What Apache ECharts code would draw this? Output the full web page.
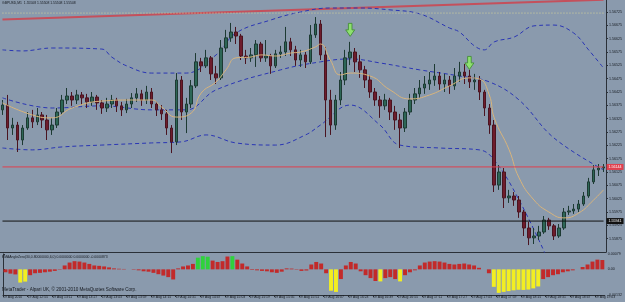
<!DOCTYPE html>
<html>
<head>
<meta charset="utf-8">
<script src="https://cdn.jsdelivr.net/npm/echarts@6/dist/echarts.min.js"></script>
<style>
  html, body { margin: 0; padding: 0; background: #8a9aad; }
  #chart { width: 625px; height: 302px; }
</style>
</head>
<body>
<div id="chart"></div>
<script>
// GBPUSD M1, one candle here ~ 3 minutes
const firstOpen = 1.56358;
const closes = [
  1.56376, 1.56290, 1.56301, 1.56245, 1.56290, 1.56328, 1.56313, 1.56339, 1.56320, 1.56283,
  1.56301, 1.56350, 1.56395, 1.56410, 1.56395, 1.56414, 1.56403, 1.56388, 1.56406, 1.56384,
  1.56365, 1.56380, 1.56395, 1.56373, 1.56358, 1.56380, 1.56403, 1.56418, 1.56395, 1.56425,
  1.56380, 1.56358, 1.56343, 1.56290, 1.56238, 1.56470, 1.56350, 1.56380, 1.56448, 1.56538,
  1.56523, 1.56553, 1.56493, 1.56478, 1.56590, 1.56628, 1.56650, 1.56635, 1.56560, 1.56553,
  1.56564, 1.56605, 1.56553, 1.56560, 1.56523, 1.56568, 1.56575, 1.56613, 1.56583, 1.56545,
  1.56564, 1.56538, 1.56639, 1.56680, 1.56564, 1.56395, 1.56301, 1.56395, 1.56470, 1.56553,
  1.56575, 1.56538, 1.56508, 1.56470, 1.56425, 1.56395, 1.56373, 1.56395, 1.56350, 1.56320,
  1.56290, 1.56350, 1.56395, 1.56418, 1.56440, 1.56455, 1.56470, 1.56485, 1.56455, 1.56470,
  1.56448, 1.56485, 1.56500, 1.56485, 1.56463, 1.56470, 1.56425, 1.56365, 1.56301, 1.56076,
  1.56125, 1.56028, 1.56035, 1.56020, 1.55975, 1.55915, 1.55878, 1.55885, 1.55900, 1.55945,
  1.55923, 1.55885, 1.55915, 1.55975, 1.55979, 1.55986, 1.56005, 1.56035, 1.56088, 1.56133,
  1.56140, 1.56144
];
const highs = [
  1.56395, 1.56414, 1.56328, 1.56313, 1.56301, 1.56350, 1.56358, 1.56365, 1.56350, 1.56339,
  1.56328, 1.56365, 1.56414, 1.56440, 1.56425, 1.56433, 1.56425, 1.56418, 1.56425, 1.56414,
  1.56395, 1.56403, 1.56414, 1.56403, 1.56388, 1.56399, 1.56421, 1.56440, 1.56433, 1.56448,
  1.56440, 1.56388, 1.56376, 1.56358, 1.56301, 1.56496, 1.56485, 1.56403, 1.56470, 1.56571,
  1.56553, 1.56583, 1.56560, 1.56523, 1.56620, 1.56658, 1.56684, 1.56669, 1.56643, 1.56583,
  1.56590, 1.56620, 1.56613, 1.56620, 1.56568, 1.56583, 1.56598, 1.56669, 1.56628, 1.56598,
  1.56583, 1.56575, 1.56676, 1.56706, 1.56695, 1.56594, 1.56433, 1.56414, 1.56500, 1.56583,
  1.56613, 1.56590, 1.56564, 1.56523, 1.56489, 1.56440, 1.56410, 1.56418, 1.56403, 1.56373,
  1.56343, 1.56365, 1.56418, 1.56440, 1.56470, 1.56485, 1.56500, 1.56530, 1.56500, 1.56493,
  1.56485, 1.56515, 1.56538, 1.56530, 1.56508, 1.56493, 1.56485, 1.56433, 1.56380, 1.56320,
  1.56151, 1.56140, 1.56058, 1.56050, 1.56035, 1.55983, 1.55938, 1.55915, 1.55923, 1.55960,
  1.55953, 1.55930, 1.55930, 1.55990, 1.55998, 1.56005, 1.56020, 1.56050, 1.56103, 1.56151,
  1.56155, 1.56155
];
const lows = [
  1.56339, 1.56245, 1.56264, 1.56200, 1.56226, 1.56283, 1.56290, 1.56301, 1.56290, 1.56245,
  1.56264, 1.56290, 1.56339, 1.56380, 1.56373, 1.56380, 1.56376, 1.56365, 1.56373, 1.56358,
  1.56343, 1.56350, 1.56365, 1.56350, 1.56335, 1.56346, 1.56365, 1.56388, 1.56373, 1.56380,
  1.56365, 1.56335, 1.56320, 1.56264, 1.56196, 1.56226, 1.56320, 1.56271, 1.56365, 1.56440,
  1.56500, 1.56515, 1.56470, 1.56455, 1.56470, 1.56575, 1.56613, 1.56605, 1.56545, 1.56530,
  1.56538, 1.56519, 1.56538, 1.56538, 1.56493, 1.56515, 1.56553, 1.56560, 1.56560, 1.56523,
  1.56519, 1.56515, 1.56530, 1.56628, 1.56545, 1.56256, 1.56264, 1.56283, 1.56376, 1.56451,
  1.56526, 1.56500, 1.56478, 1.56440, 1.56403, 1.56373, 1.56328, 1.56358, 1.56320, 1.56283,
  1.56215, 1.56275, 1.56339, 1.56380, 1.56403, 1.56418, 1.56433, 1.56448, 1.56433, 1.56425,
  1.56418, 1.56433, 1.56463, 1.56455, 1.56440, 1.56433, 1.56395, 1.56335, 1.56268, 1.56050,
  1.56058, 1.55990, 1.56009, 1.55998, 1.55953, 1.55885, 1.55851, 1.55855, 1.55870, 1.55893,
  1.55908, 1.55870, 1.55878, 1.55908, 1.55964, 1.55968, 1.55975, 1.55998, 1.56028, 1.56080,
  1.56110, 1.56125
];

// indicator lines, [candle index, price]
const maLine = [
  [0, 1.56384], [6, 1.56339], [10, 1.56328], [14, 1.56365], [20, 1.56391], [26, 1.56395],
  [30, 1.56395], [32, 1.56369], [35, 1.56331], [38, 1.56346], [40, 1.56421], [43, 1.56463],
  [45, 1.56508], [47, 1.56553], [50, 1.56556], [52, 1.56564], [55, 1.56560], [58, 1.56571],
  [60, 1.56575], [63, 1.56594], [64, 1.56605], [66, 1.56545], [68, 1.56489], [70, 1.56496],
  [74, 1.56485], [78, 1.56433], [82, 1.56399], [86, 1.56414], [90, 1.56448], [94, 1.56478],
  [96, 1.56474], [98, 1.56414], [99, 1.56328], [102, 1.56208], [104, 1.56103], [107, 1.56020],
  [110, 1.55975], [113, 1.55953], [116, 1.55971], [119, 1.56020], [121, 1.56058]
];
const bandUpper = [
  [0, 1.56583], [4, 1.56579], [10, 1.56590], [20, 1.56586], [22, 1.56556], [25, 1.56523],
  [30, 1.56496], [37, 1.56496], [43, 1.56564], [47, 1.56646], [54, 1.56695], [60, 1.56725],
  [66, 1.56740], [72, 1.56740], [78, 1.56733], [84, 1.56718], [90, 1.56665], [92, 1.56650],
  [95, 1.56598], [97, 1.56583], [99, 1.56613], [103, 1.56631], [107, 1.56673], [111, 1.56676],
  [115, 1.56646], [118, 1.56583], [121, 1.56515]
];
const bandMiddle = [
  [0, 1.56403], [10, 1.56365], [20, 1.56373], [30, 1.56358], [37, 1.56358], [43, 1.56433],
  [56, 1.56508], [64, 1.56538], [70, 1.56549], [76, 1.56534], [84, 1.56508], [92, 1.56485],
  [98, 1.56463], [104, 1.56395], [111, 1.56253], [121, 1.56133]
];
const bandLower = [
  [0, 1.56215], [6, 1.56208], [12, 1.56219], [20, 1.56226], [30, 1.56234], [36, 1.56238],
  [41, 1.56264], [47, 1.56234], [55, 1.56226], [61, 1.56264], [64, 1.56301], [70, 1.56376],
  [76, 1.56301], [80, 1.56226], [88, 1.56215], [96, 1.56208], [99, 1.56170], [104, 1.56020],
  [110, 1.55788]
];
const trendLine = [[0, 1.56697], [121, 1.56771]];
const levelDotted = 1.56721;
const levelBid = 1.56144;
const levelBlack = 1.55941;
const arrowMarks = [[70, 1.56658], [94, 1.56534]];

// EMAAngleZero histogram
const histValues = [
  -0.00015, -0.00022, -0.00026, -0.00068, -0.00063, -0.00030, -0.00020, -0.00018, -0.00015, -0.00012,
  -0.00008, -0.00002, 0.00020, 0.00035, 0.00042, 0.00040, 0.00035, 0.00028, 0.00020, 0.00018,
  0.00015, 0.00010, 0.00005, 0.00003, 0.00002, 0.00000, -0.00002, -0.00005, -0.00010, -0.00012,
  -0.00018, -0.00025, -0.00032, -0.00040, -0.00052, 0.00005, 0.00015, 0.00020, 0.00028, 0.00060,
  0.00068, 0.00065, 0.00045, 0.00038, 0.00042, 0.00066, 0.00068, 0.00050, 0.00030, 0.00015,
  -0.00003, -0.00005, -0.00008, -0.00010, -0.00015, -0.00018, -0.00012, 0.00005, 0.00004, -0.00002,
  -0.00008, -0.00006, 0.00025, 0.00038, 0.00030, -0.00020, -0.00110, -0.00116, -0.00050, 0.00020,
  0.00038, 0.00030, -0.00010, -0.00030, -0.00045, -0.00060, -0.00062, -0.00045, -0.00040, -0.00050,
  -0.00062, -0.00030, -0.00015, -0.00005, 0.00020, 0.00035, 0.00040, 0.00042, 0.00040, 0.00035,
  0.00028, 0.00025, 0.00028, 0.00030, 0.00025, 0.00020, 0.00008, 0.00000, -0.00020, -0.00090,
  -0.00121, -0.00116, -0.00112, -0.00108, -0.00105, -0.00106, -0.00104, -0.00098, -0.00088, -0.00050,
  -0.00040, -0.00030, -0.00025, -0.00015, -0.00010, -0.00005, 0.00000, 0.00012, 0.00025, 0.00040,
  0.00050, 0.00048
];
// run lengths of histogram colour: r red, y yellow, g green
const histZones = [
  [3, 'r'], [2, 'y'], [34, 'r'], [3, 'g'], [4, 'r'], [1, 'g'], [19, 'r'], [2, 'y'],
  [8, 'r'], [1, 'y'], [3, 'r'], [1, 'y'], [18, 'r'], [10, 'y'], [13, 'r']
];

const priceTicks = [
  1.55875, 1.55925, 1.55975, 1.56025, 1.56075, 1.56125, 1.56175, 1.56225, 1.56275,
  1.56325, 1.56375, 1.56425, 1.56475, 1.56525, 1.56575, 1.56625, 1.56675, 1.56725
];
const histTicks = [0.00079, 0, -0.00132];
const timeTicks = [0, 16, 32, 48, 64, 80, 96, 112, 128, 144, 160, 176, 192, 208, 224, 240,
  256, 272, 288, 304, 320, 336, 352, 368, 384];
const timeLabels = [
  '19 Aug 2010', '19 Aug 12:55', '19 Aug 13:11', '19 Aug 13:27', '19 Aug 13:43', '19 Aug 13:59',
  '19 Aug 14:15', '19 Aug 14:31', '19 Aug 14:47', '19 Aug 15:03', '19 Aug 15:19', '19 Aug 15:35',
  '19 Aug 15:51', '19 Aug 16:07', '19 Aug 16:23', '19 Aug 16:39', '19 Aug 16:55', '19 Aug 17:11',
  '19 Aug 17:27', '19 Aug 17:43', '19 Aug 17:59', '19 Aug 18:15', '19 Aug 18:31', '19 Aug 18:47',
  '19 Aug 19:03'
];

const zoneColors = { r: '#c22a2a', y: '#f2ee22', g: '#2fd23c' };
const zoneList = [];
histZones.forEach(z => { for (let k = 0; k < z[0]; k++) zoneList.push(z[1]); });

const cats = closes.map((_, i) => i);
const last = cats.length - 1;
const candleData = closes.map((c, i) => [i === 0 ? firstOpen : closes[i - 1], c, lows[i], highs[i]]);
const histData = histValues.map((v, i) => ({ value: v, itemStyle: { color: zoneColors[zoneList[i]] } }));

const font = 'Liberation Sans, Arial, sans-serif';
const ink = '#161a20';
const bandStyle = { color: '#2a36b4', width: 1, type: [4, 3] };

// horizontal price level drawn as a flat line series, tag on the right
function level(value, color, lineType, tag) {
  return {
    type: 'line', xAxisIndex: 0, yAxisIndex: 0, data: [[0, value], [last, value]],
    showSymbol: false, silent: true, z: 5,
    lineStyle: { color: color, width: 1, type: lineType },
    endLabel: tag ? { show: true, formatter: value.toFixed(5), distance: 3, color: '#fff',
      backgroundColor: color, fontSize: 3.6, fontFamily: font, padding: [1, 2] } : { show: false }
  };
}

const chart = echarts.init(document.getElementById('chart'));
chart.setOption({
  animation: false,
  backgroundColor: '#8a9aad',
  grid: [
    { left: 0, right: 15, top: 0, height: 252 },
    { left: 0, right: 15, top: 254, height: 41 }
  ],
  xAxis: [
    { type: 'category', gridIndex: 0, data: cats, boundaryGap: true,
      axisLine: { show: true, lineStyle: { color: '#2a3038' } },
      axisTick: { show: false }, axisLabel: { show: false }, splitLine: { show: false } },
    { type: 'category', gridIndex: 1, data: cats, boundaryGap: true,
      axisLine: { show: false }, axisTick: { show: false }, axisLabel: { show: false } },
    { type: 'value', gridIndex: 1, min: 0, max: 390.4, position: 'bottom',
      axisLine: { show: true, onZero: false, lineStyle: { color: '#2a3038' } },
      axisTick: { show: true, length: 2, customValues: timeTicks, lineStyle: { color: '#2a3038' } },
      axisLabel: { customValues: timeTicks, align: 'left', margin: 1, fontSize: 3.4, color: ink,
        fontFamily: font, formatter: v => timeLabels[timeTicks.indexOf(v)] || '' },
      splitLine: { show: false } }
  ],
  yAxis: [
    { type: 'value', gridIndex: 0, position: 'right', min: 1.55825, max: 1.5677,
      axisLine: { show: true, lineStyle: { color: '#2a3038' } },
      axisTick: { show: true, length: 2, customValues: priceTicks, lineStyle: { color: '#2a3038' } },
      axisLabel: { customValues: priceTicks, margin: 3, fontSize: 3.6, color: ink, fontFamily: font,
        formatter: v => v.toFixed(5) },
      splitLine: { show: false } },
    { type: 'value', gridIndex: 1, position: 'right', min: -0.00132, max: 0.00079,
      axisLine: { show: true, lineStyle: { color: '#2a3038' } },
      axisTick: { show: true, length: 2, customValues: histTicks, lineStyle: { color: '#2a3038' } },
      axisLabel: { customValues: histTicks, margin: 3, fontSize: 3.6, color: ink, fontFamily: font,
        formatter: v => (v === 0 ? '0.00' : v.toFixed(5)) },
      splitLine: { show: false } }
  ],
  series: [
    { type: 'line', xAxisIndex: 0, yAxisIndex: 0, data: trendLine, showSymbol: false,
      lineStyle: { color: '#c4505c', width: 2 }, z: 1 },
    level(levelDotted, '#d6d49a', [1, 2], false),
    { type: 'line', xAxisIndex: 0, yAxisIndex: 0, data: bandUpper, smooth: 0.4, showSymbol: false,
      lineStyle: bandStyle, z: 2 },
    { type: 'line', xAxisIndex: 0, yAxisIndex: 0, data: bandMiddle, smooth: 0.4, showSymbol: false,
      lineStyle: bandStyle, z: 2 },
    { type: 'line', xAxisIndex: 0, yAxisIndex: 0, data: bandLower, smooth: 0.4, showSymbol: false,
      lineStyle: bandStyle, z: 2 },
    { type: 'candlestick', xAxisIndex: 0, yAxisIndex: 0, data: candleData, barWidth: 3, z: 3,
      itemStyle: { color: '#2d6656', color0: '#6e1c2c', borderColor: '#1d3a33', borderColor0: '#4a1420', borderWidth: 1 },
      markPoint: {
        silent: true, animation: false,
        symbol: 'path://M3,0 L7,0 L7,6 L10,6 L5,12 L0,6 L3,6 Z', symbolSize: [9, 13],
        itemStyle: { color: '#8ee070', borderColor: '#3d8a30', borderWidth: 0.8 },
        label: { show: false },
        data: arrowMarks.map(p => ({ coord: p }))
      } },
    { type: 'line', xAxisIndex: 0, yAxisIndex: 0, data: maLine, smooth: 0.5, showSymbol: false,
      lineStyle: { color: '#d8b47c', width: 1 }, z: 4 },
    level(levelBid, '#e0404e', 'solid', true),
    level(levelBlack, '#111111', 'solid', true),
    { type: 'bar', xAxisIndex: 1, yAxisIndex: 1, data: histData, barCategoryGap: '20%' }
  ],
  graphic: [
    { type: 'text', left: 2, top: 2, style: { text: 'GBPUSD,M1  1.55508 1.55508 1.55508 1.55508',
      fontSize: 3.4, fill: ink, fontFamily: font } },
    { type: 'text', left: 2, top: 256, style: { text: 'EMAAngleZero(30,0.80000000,6,0) 0.0000000 0.0000000 -0.0000873',
      fontSize: 3.4, fill: ink, fontFamily: font } },
    { type: 'text', left: 2, top: 287, style: { text: 'MetaTrader - Alpari UK, © 2001-2010 MetaQuotes Software Corp.',
      fontSize: 4.6, fill: ink, fontFamily: font } }
  ]
});
</script>
</body>
</html>
